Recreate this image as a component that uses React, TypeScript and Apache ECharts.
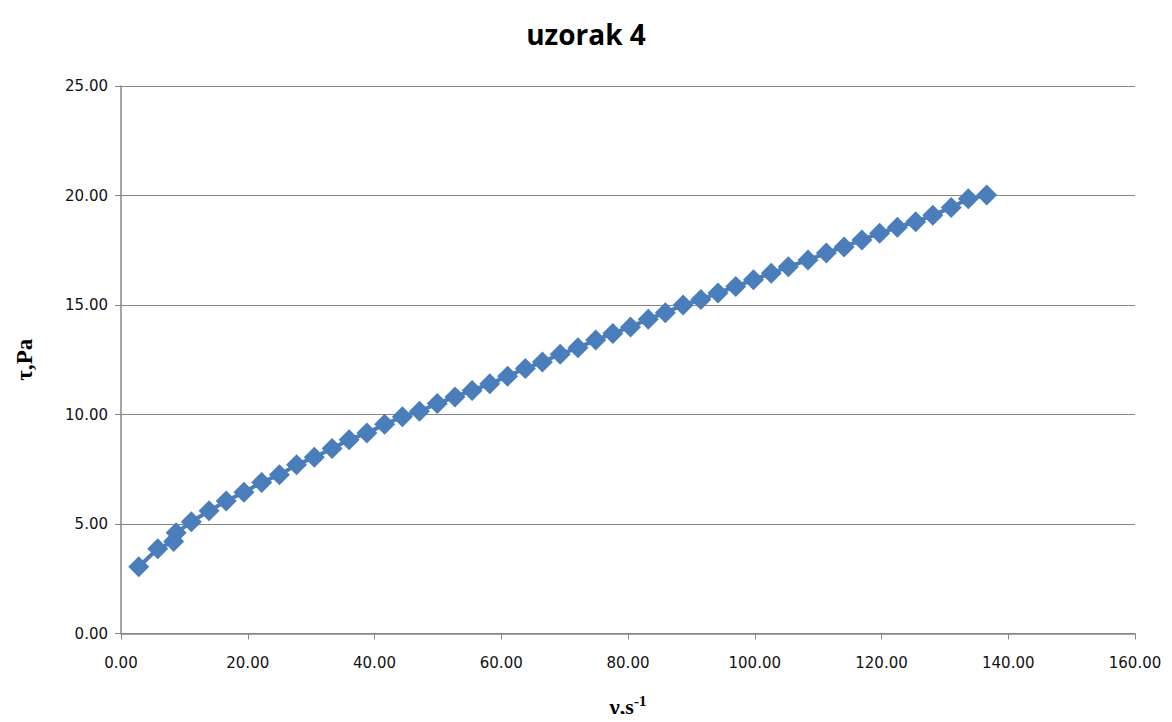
import React, { useEffect, useRef } from "react";
import * as echarts from "echarts";

const shearRate = [
  2.8, 5.8, 8.3, 8.7, 11.1, 13.9, 16.6, 19.4, 22.2, 25.0, 27.7, 30.5, 33.3, 36.0,
  38.8, 41.6, 44.4, 47.1, 49.9, 52.7, 55.4, 58.2, 61.0, 63.8, 66.5, 69.3, 72.1,
  74.9, 77.6, 80.4, 83.2, 85.9, 88.7, 91.5, 94.2, 97.0, 99.8, 102.6, 105.3,
  108.4, 111.3, 114.1, 116.9, 119.7, 122.5, 125.4, 128.1, 131.0, 133.7, 136.6,
];
const shearStress = [
  3.05, 3.87, 4.2, 4.6, 5.1, 5.6, 6.05, 6.45, 6.9, 7.25, 7.7, 8.05, 8.45, 8.85,
  9.15, 9.55, 9.9, 10.15, 10.5, 10.8, 11.1, 11.4, 11.75, 12.1, 12.4, 12.75, 13.05,
  13.4, 13.7, 14.0, 14.35, 14.65, 15.0, 15.25, 15.55, 15.85, 16.15, 16.45, 16.75,
  17.05, 17.38, 17.65, 17.97, 18.28, 18.55, 18.8, 19.1, 19.45, 19.85, 20.02,
];
const xTicks = [0, 20, 40, 60, 80, 100, 120, 140, 160];
const yTicks = [0, 5, 10, 15, 20, 25];

export default function App() {
  const ref = useRef<HTMLDivElement>(null);
  useEffect(() => {
    const chart = echarts.init(ref.current!, undefined, { renderer: "svg" });
    const data = shearRate.map((x, i) => [x, shearStress[i]]);
    chart.setOption({
      animation: false,
      backgroundColor: "#ffffff",
      title: {
        text: "uzorak 4",
        left: "center",
        top: 15,
        textStyle: { fontFamily: "Open Sans", fontWeight: "bold", fontSize: 28, color: "#000" },
      },
      grid: { left: 121, right: 37, top: 86, bottom: 87 },
      xAxis: {
        type: "value",
        min: xTicks[0],
        max: xTicks[xTicks.length - 1],
        interval: 20,
        axisLine: { show: true, lineStyle: { color: "#868686", width: 1.5 } },
        axisTick: { show: true, inside: false, length: 6, lineStyle: { color: "#868686" } },
        splitLine: { show: false },
        axisLabel: {
          formatter: (v: number) => v.toFixed(2),
          fontFamily: "DejaVu Sans",
          fontSize: 15,
          color: "#111",
          margin: 22,
        },
        name: "{a|γ,s}{b|-1}",
        nameLocation: "middle",
        nameGap: 60,
        nameTextStyle: {
          rich: {
            a: { fontFamily: "Liberation Serif", fontWeight: "bold", fontSize: 22, color: "#000" },
            b: {
              fontFamily: "Liberation Serif",
              fontWeight: "bold",
              fontSize: 15,
              color: "#000",
              verticalAlign: "top",
              padding: [0, 0, 10, 0],
            },
          },
        },
      },
      yAxis: {
        type: "value",
        min: yTicks[0],
        max: yTicks[yTicks.length - 1],
        interval: 5,
        axisLine: { show: true, lineStyle: { color: "#868686", width: 1.5 } },
        axisTick: { show: true, inside: false, length: 6, lineStyle: { color: "#868686" } },
        splitLine: { show: true, lineStyle: { color: "#868686", width: 1.2 } },
        axisLabel: {
          formatter: (v: number) => v.toFixed(2),
          fontFamily: "DejaVu Sans",
          fontSize: 15,
          color: "#111",
          margin: 13,
        },
        name: "τ,Pa",
        nameLocation: "middle",
        nameGap: 85,
        nameTextStyle: { fontFamily: "Liberation Serif", fontWeight: "bold", fontSize: 23, color: "#000" },
      },
      series: [
        {
          type: "line",
          data,
          symbol: "diamond",
          symbolSize: 21,
          lineStyle: { color: "#4a7ebb", width: 4 },
          itemStyle: { color: "#4a7ebb" },
        },
      ],
    });
    return () => chart.dispose();
  }, []);
  return <div ref={ref} style={{ width: 1172, height: 722, margin: -8 }} />;
}
